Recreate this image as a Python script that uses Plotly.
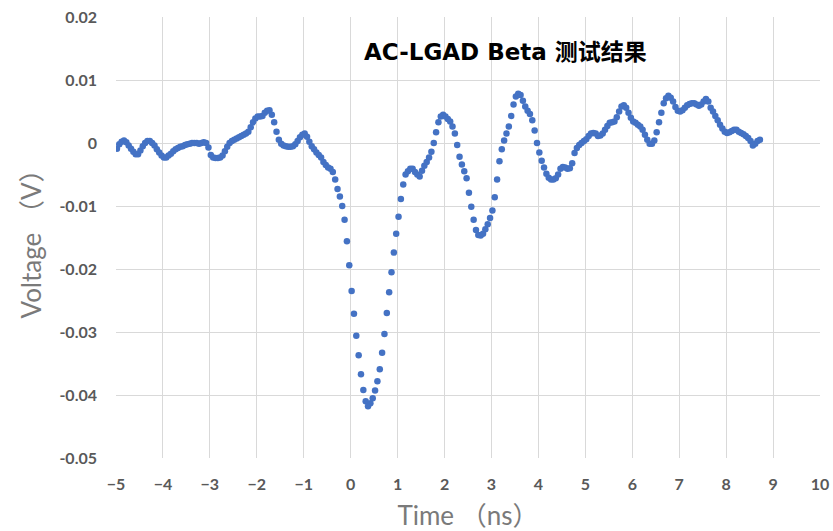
import plotly.graph_objects as go

# Sampling times (ns), uniform 50 ps grid
t_start = -4.98
t_step = 0.05

# Voltage readings (mV) for each sample
voltage_mv = [
    # -4.98 .. -2.48
    -0.9, -0.2, 0.2, 0.4, 0.1, -0.4, -0.9, -1.4, -1.8, -1.8,
    -1.2, -0.5, 0.0, 0.3, 0.3, 0.0, -0.4, -1.0, -1.5, -2.0,
    -2.3, -2.3, -2.0, -1.7, -1.3, -1.0, -0.8, -0.6, -0.5, -0.3,
    -0.2, -0.1, 0.0, 0.0, 0.0, -0.1, 0.0, 0.1, 0.0, -0.7,
    -1.9, -2.3, -2.4, -2.4, -2.3, -2.0, -1.3, -0.6, 0.0, 0.3,
    0.5,
    # -2.43 .. -0.43
    0.7, 0.9, 1.1, 1.3, 1.5, 1.8, 2.5, 3.3, 3.9, 4.2,
    4.2, 4.3, 4.8, 5.1, 5.2, 4.5, 3.3, 1.8, 0.5, -0.1,
    -0.4, -0.5, -0.6, -0.6, -0.5, -0.2, 0.3, 0.9, 1.3, 1.5,
    1.0, 0.2, -0.5, -1.0, -1.5, -1.9, -2.3, -3.0, -3.5, -3.9,
    -4.1,
    # -0.38 .. 8.72
    -4.6, -5.8, -7.3, -8.5, -10.0, -12.2, -15.6, -19.4, -23.5, -27.1,
    -30.6, -33.7, -36.7, -39.2, -41.0, -41.8, -41.3, -40.5, -39.3, -37.8,
    -35.9, -33.3, -30.3, -27.0, -23.7, -20.5, -17.4, -14.4, -11.7, -8.9,
    -6.6, -5.0, -4.5, -4.1, -4.1, -4.6, -5.0, -5.3, -4.4, -3.6,
    -3.0, -2.3, -1.4, 0.0, 1.7, 3.3, 4.2, 4.5, 4.2, 3.8,
    3.4, 2.6, 1.5, -0.3, -2.2, -3.4, -4.5, -5.6, -7.9, -10.1,
    -12.2, -13.8, -14.6, -14.7, -14.4, -13.7, -12.9, -11.9, -10.7, -8.6,
    -5.8, -2.9, -1.0, 0.4, 1.5, 2.6, 4.3, 6.1, 7.4, 7.8,
    7.6, 6.7, 5.8, 5.1, 4.6, 3.6, 2.0, 0.0, -1.5, -2.8,
    -3.9, -4.9, -5.5, -5.8, -5.8, -5.6, -5.0, -4.1, -3.8, -3.9,
    -4.1, -4.0, -3.2, -1.6, -0.8, -0.3, 0.0, 0.3, 0.6, 1.1,
    1.5, 1.6, 1.5, 1.1, 1.2, 1.5, 2.1, 2.7, 3.2, 3.3,
    3.4, 4.1, 5.0, 5.8, 6.0, 5.6, 4.8, 4.0, 3.4, 3.2,
    2.9, 2.6, 2.1, 1.3, 0.5, -0.1, -0.1, 0.4, 1.7, 3.3,
    4.8, 6.3, 7.1, 7.5, 7.2, 6.6, 5.7, 5.1, 5.0, 5.2,
    5.6, 6.0, 6.2, 6.3, 6.3, 6.1, 5.9, 6.1, 6.6, 7.0,
    6.6, 5.6, 5.0, 4.3, 3.6, 2.9, 2.3, 1.8, 1.6, 1.7,
    1.9, 2.1, 2.1, 1.8, 1.6, 1.4, 1.1, 0.8, 0.3, -0.4,
    -0.1, 0.3, 0.5,
]

time_ns = [round(t_start + t_step * i, 3) for i in range(len(voltage_mv))]
voltage_v = [v / 1000.0 for v in voltage_mv]

x_ticks = [-5, -4, -3, -2, -1, 0, 1, 2, 3, 4, 5, 6, 7, 8, 9, 10]
y_ticks = [0.02, 0.01, 0, -0.01, -0.02, -0.03, -0.04, -0.05]
y_tick_text = ["0.02", "0.01", "0", "-0.01", "-0.02", "-0.03", "-0.04", "-0.05"]

title_text = "AC-LGAD Beta 测试结果"
x_title = "Time （ns）"
y_title = "Voltage （V）"

fig = go.Figure()
fig.add_trace(go.Scatter(
    x=time_ns, y=voltage_v, mode="markers",
    marker=dict(color="#4472C4", size=6.5, line=dict(width=0)),
    showlegend=False,
))

tick_font = dict(family="Lato, 'Open Sans', sans-serif", size=16, color="#595959", weight="bold")
title_font = dict(family="Lato, 'Noto Sans CJK SC', sans-serif", size=26, color="#7a7a7a")

fig.update_layout(
    width=833, height=531,
    margin=dict(l=116, r=13, t=17, b=73, autoexpand=False),
    paper_bgcolor="white", plot_bgcolor="white",
    xaxis=dict(
        range=[-5, 10], tickvals=x_ticks, showgrid=True, gridcolor="#d9d9d9", gridwidth=1,
        zeroline=False, showline=False, ticks="", tickfont=tick_font,
        ticklabelstandoff=15, automargin=False,
        title=dict(text=x_title, font=title_font, standoff=15),
    ),
    yaxis=dict(
        range=[-0.05, 0.02], tickvals=y_ticks, ticktext=y_tick_text, showgrid=True,
        gridcolor="#d9d9d9", gridwidth=1, zeroline=False, showline=False, ticks="",
        tickfont=tick_font, ticklabelstandoff=18, automargin=False,
        title=dict(text=y_title, font=title_font, standoff=10),
    ),
    annotations=[dict(
        text=title_text, xref="paper", yref="paper", x=0.5526, y=0.9206,
        xanchor="center", yanchor="middle", showarrow=False,
        font=dict(family="'DejaVu Sans', 'Noto Sans CJK SC', sans-serif", size=23,
                  color="black", weight="bold"),
    )],
)

fig.write_html("out.html", config={"displayModeBar": False},
               post_script="document.body.style.margin='0';")
